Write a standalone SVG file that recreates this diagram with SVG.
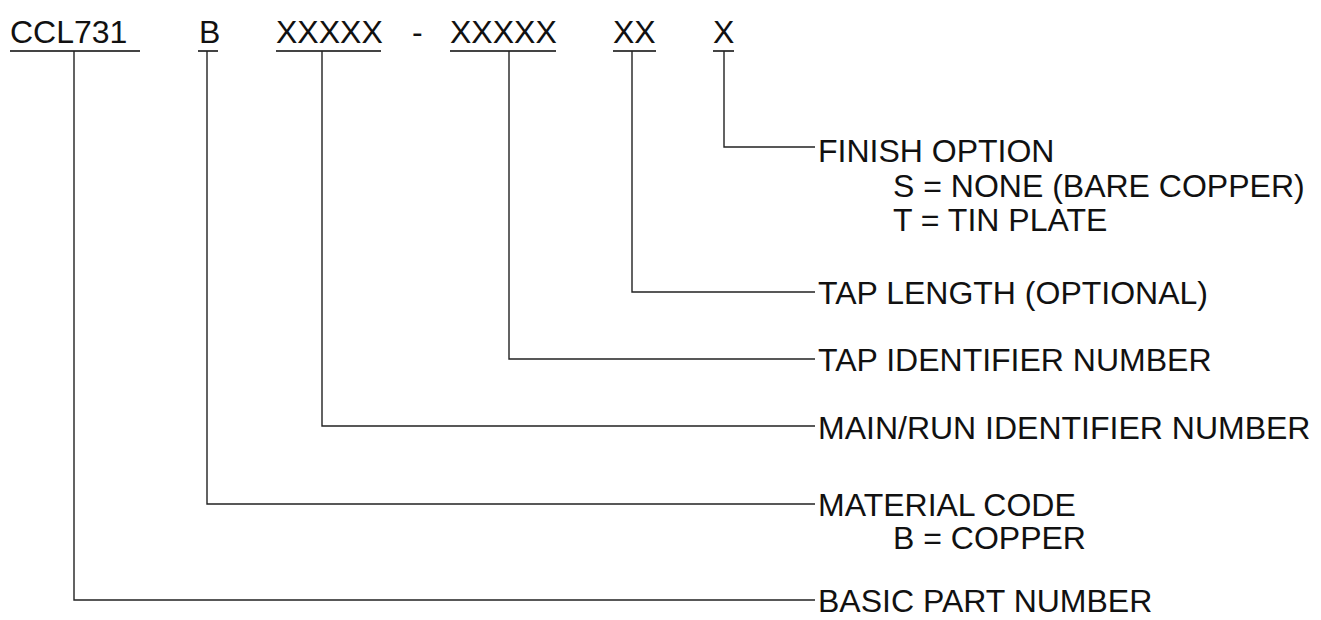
<svg xmlns="http://www.w3.org/2000/svg" width="1321" height="620" viewBox="0 0 1321 620">
<style>
text{font-family:"Liberation Sans",Arial,sans-serif;font-size:32px;fill:#111}
.u{stroke:#444;stroke-width:2;fill:none}
.c{stroke:#222;stroke-width:1.4;fill:none}
</style>
<rect width="1321" height="620" fill="#fff"/>
<g id="part-code">
<text x="10" y="43">CCL731</text>
<text x="199" y="43">B</text>
<text x="276" y="43">XXXXX</text>
<text x="412" y="43">-</text>
<text x="450" y="43">XXXXX</text>
<text x="613" y="43">XX</text>
<text x="713" y="43">X</text>
<line class="u" x1="10" y1="51" x2="140" y2="51"/>
<line class="u" x1="198" y1="51" x2="218" y2="51"/>
<line class="u" x1="276" y1="51" x2="381" y2="51"/>
<line class="u" x1="450" y1="51" x2="556" y2="51"/>
<line class="u" x1="613" y1="51" x2="656" y2="51"/>
<line class="u" x1="713" y1="51" x2="734" y2="51"/>
</g>
<g id="connectors">
<path class="c" d="M724,51V147H815"/>
<path class="c" d="M632,51V292H815"/>
<path class="c" d="M509,51V359H815"/>
<path class="c" d="M322,51V426H815"/>
<path class="c" d="M207,51V504H815"/>
<path class="c" d="M74,51V600H815"/>
</g>
<g id="finish-option">
<text x="818" y="162">FINISH OPTION</text>
<text x="893" y="197">S = NONE (BARE COPPER)</text>
<text x="893" y="231">T = TIN PLATE</text>
</g>
<g id="tap-length"><text x="818" y="304">TAP LENGTH (OPTIONAL)</text></g>
<g id="tap-identifier"><text x="818" y="371">TAP IDENTIFIER NUMBER</text></g>
<g id="main-run-identifier"><text x="818" y="439">MAIN/RUN IDENTIFIER NUMBER</text></g>
<g id="material-code">
<text x="818" y="516">MATERIAL CODE</text>
<text x="893" y="549">B = COPPER</text>
</g>
<g id="basic-part-number"><text x="818" y="612">BASIC PART NUMBER</text></g>
</svg>
